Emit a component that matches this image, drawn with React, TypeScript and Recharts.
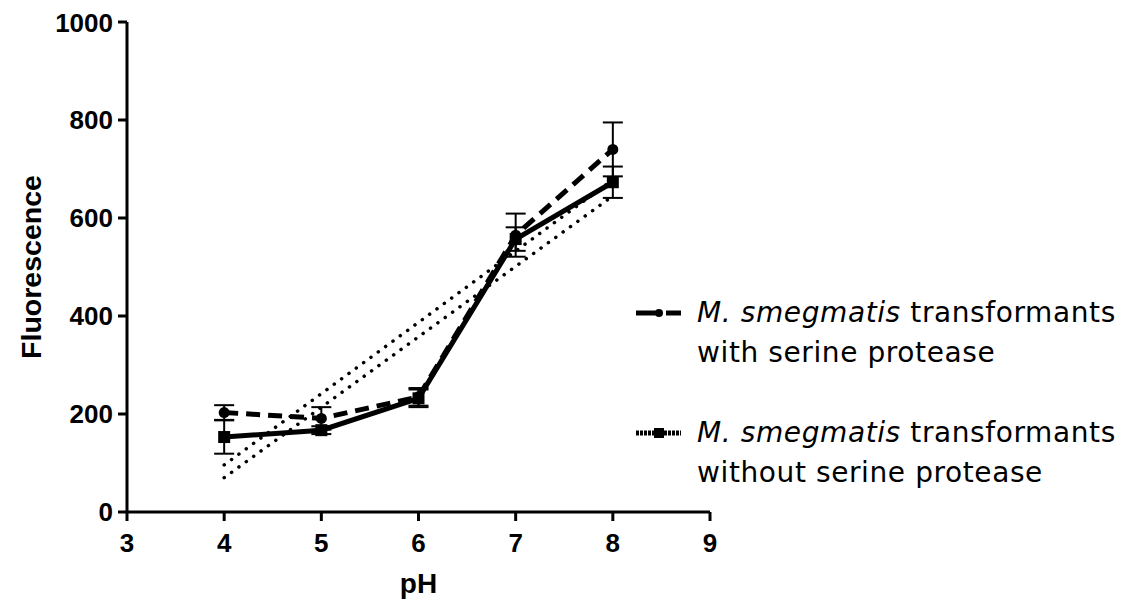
import React from "react";
import { LineChart, Line, XAxis, YAxis, ErrorBar } from "recharts";

// pH steps measured
const phValues = [4, 5, 6, 7, 8];

// Mean fluorescence and SEM for each strain
const withProtease = [203, 191, 235, 565, 740];
const withProteaseErr = [15, 23, 18, 44, 55];
const withoutProtease = [153, 167, 232, 557, 673];
const withoutProteaseErr = [34, 8, 18, 24, 32];

// Linear trend lines (end points)
const trendWithX = [4, 8];
const trendWithY = [96, 678];
const trendWithoutX = [4, 8];
const trendWithoutY = [70, 645];

const xTicks = [3, 4, 5, 6, 7, 8, 9];
const yTicks = [0, 200, 400, 600, 800, 1000];

const legendLabels = [
  ["M. smegmatis", " transformants", "with serine protease"],
  ["M. smegmatis", " transformants", "without serine protease"],
];

const withData = phValues.map((ph, i) => ({ ph, v: withProtease[i], err: withProteaseErr[i] }));
const withoutData = phValues.map((ph, i) => ({ ph, v: withoutProtease[i], err: withoutProteaseErr[i] }));
const trendWith = trendWithX.map((ph, i) => ({ ph, v: trendWithY[i] }));
const trendWithout = trendWithoutX.map((ph, i) => ({ ph, v: trendWithoutY[i] }));

const tickFont = { fontFamily: "'Liberation Sans', Arial, sans-serif", fontWeight: 700, fontSize: 26, fill: "#000" };

const CircleDot = (props: any) => {
  const { cx, cy, index } = props;
  if (cx == null || cy == null) return null;
  return <circle key={`c-${index}`} cx={cx} cy={cy} r={5.5} fill="#000" />;
};

const SquareDot = (props: any) => {
  const { cx, cy, index } = props;
  if (cx == null || cy == null) return null;
  return <rect key={`s-${index}`} x={cx - 6} y={cy - 6} width={12} height={12} fill="#000" />;
};

const LegendBox = () => {
  const textStyle: React.CSSProperties = {
    fontFamily: "'DejaVu Sans', Verdana, sans-serif",
    fontSize: 28,
    letterSpacing: 0.6,
    lineHeight: "40px",
    color: "#000",
    whiteSpace: "nowrap",
  };
  return (
    <div style={{ position: "absolute", left: 628, top: 285 }}>
      {legendLabels.map((lab, i) => (
        <div key={i} style={{ display: "flex", alignItems: "flex-start", marginBottom: i === 0 ? 40 : 0 }}>
          <svg width={61} height={40} style={{ flex: "none" }}>
            {i === 0 ? (
              <g>
                <line x1={0} y1={20} x2={20} y2={20} stroke="#000" strokeWidth={5} />
                <circle cx={23} cy={20} r={4} fill="#000" />
                <line x1={30} y1={20} x2={45} y2={20} stroke="#000" strokeWidth={5} />
              </g>
            ) : (
              <g>
                <line x1={0} y1={20} x2={45} y2={20} stroke="#000" strokeWidth={5} strokeDasharray="3 1" />
                <rect x={18} y={15} width={10} height={10} fill="#000" />
              </g>
            )}
          </svg>
          <div style={textStyle}>
            <div>
              <span style={{ fontStyle: "italic" }}>{lab[0]}</span>
              {lab[1]}
            </div>
            <div>{lab[2]}</div>
          </div>
        </div>
      ))}
    </div>
  );
};

export default function App() {
  return (
    <div style={{ position: "relative", width: 1124, height: 601 }}>
      <LineChart width={1124} height={601} margin={{ top: 14, right: 422, bottom: 0, left: 0 }}>
        <XAxis
          type="number"
          dataKey="ph"
          domain={[3, 9]}
          ticks={xTicks}
          allowDuplicatedCategory={false}
          axisLine={{ stroke: "#000", strokeWidth: 3 }}
          tickLine={{ stroke: "#000", strokeWidth: 3 }}
          tickSize={9}
          tickMargin={13}
          tick={tickFont}
          height={97}
          label={{
            value: "pH",
            position: "insideBottom",
            offset: 16,
            style: { ...tickFont, fontSize: 28 },
          }}
        />
        <YAxis
          type="number"
          domain={[0, 1000]}
          ticks={yTicks}
          axisLine={{ stroke: "#000", strokeWidth: 3 }}
          tickLine={{ stroke: "#000", strokeWidth: 3 }}
          tickSize={9}
          tickMargin={5}
          tick={tickFont}
          width={119}
          label={{
            value: "Fluorescence",
            angle: -90,
            position: "insideLeft",
            offset: 23,
            style: { ...tickFont, fontSize: 28.5, textAnchor: "middle" },
          }}
        />
        <Line
          data={trendWith}
          dataKey="v"
          stroke="#000"
          strokeWidth={3.5}
          strokeDasharray="0.1 9"
          strokeLinecap="round"
          dot={false}
          isAnimationActive={false}
        />
        <Line
          data={trendWithout}
          dataKey="v"
          stroke="#000"
          strokeWidth={3.5}
          strokeDasharray="0.1 9"
          strokeLinecap="round"
          dot={false}
          isAnimationActive={false}
        />
        <Line
          data={withData}
          dataKey="v"
          stroke="#000"
          strokeWidth={5}
          strokeDasharray="14 8"
          dot={<CircleDot />}
          isAnimationActive={false}
        >
          <ErrorBar dataKey="err" direction="y" width={10} stroke="#000" strokeWidth={2} />
        </Line>
        <Line
          data={withoutData}
          dataKey="v"
          stroke="#000"
          strokeWidth={5}
          dot={<SquareDot />}
          isAnimationActive={false}
        >
          <ErrorBar dataKey="err" direction="y" width={10} stroke="#000" strokeWidth={2} />
        </Line>
      </LineChart>
      <LegendBox />
    </div>
  );
}
